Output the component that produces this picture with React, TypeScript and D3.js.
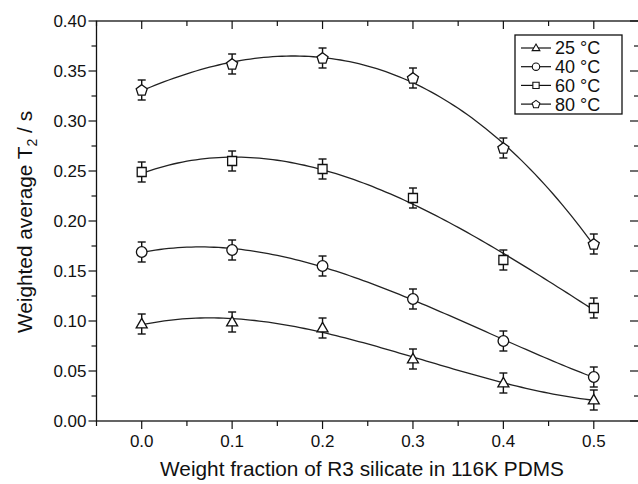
import React from "react";
import * as d3 from "d3";

// Weight fraction of R3 silicate (x) and weighted-average T2 in seconds per temperature
const fractions = [0, 0.1, 0.2, 0.3, 0.4, 0.5];
const t2At25 = [0.097, 0.099, 0.093, 0.062, 0.038, 0.021];
const t2At40 = [0.169, 0.171, 0.155, 0.122, 0.08, 0.044];
const t2At60 = [0.249, 0.26, 0.252, 0.223, 0.161, 0.113];
const t2At80 = [0.331, 0.357, 0.363, 0.343, 0.273, 0.177];
const err25 = [0.01, 0.01, 0.01, 0.01, 0.01, 0.01];
const err40 = [0.01, 0.01, 0.01, 0.01, 0.01, 0.01];
const err60 = [0.01, 0.01, 0.01, 0.01, 0.01, 0.01];
const err80 = [0.01, 0.01, 0.01, 0.01, 0.01, 0.01];
const seriesNames = ["25 °C", "40 °C", "60 °C", "80 °C"];
const seriesMarkers = ["triangle", "circle", "square", "pentagon"];
const xTickValues = [0, 0.1, 0.2, 0.3, 0.4, 0.5];
const yTickValues = [0, 0.05, 0.1, 0.15, 0.2, 0.25, 0.3, 0.35, 0.4];

const W = 638;
const H = 484;
const left = 96.5;
const right = 639;
const top = 21;
const bottom = 421;
const FONT = "'Liberation Sans', Arial, Helvetica, sans-serif";

const x = d3.scaleLinear().domain([-0.05, 0.55]).range([left, right]);
const y = d3.scaleLinear().domain([0, 0.4]).range([bottom, top]);

// least-squares polynomial regression (normal equations + Gaussian elimination)
function polyfit(xs: number[], ys: number[], deg: number): number[] {
  const n = deg + 1;
  const A: number[][] = Array.from({ length: n }, () => new Array(n + 1).fill(0));
  for (let r = 0; r < n; r++) {
    for (let c = 0; c < n; c++) {
      A[r][c] = d3.sum(xs, (v) => Math.pow(v, r + c));
    }
    A[r][n] = d3.sum(xs, (v, i) => Math.pow(v, r) * ys[i]);
  }
  for (let i = 0; i < n; i++) {
    let p = i;
    for (let k = i + 1; k < n; k++) if (Math.abs(A[k][i]) > Math.abs(A[p][i])) p = k;
    [A[i], A[p]] = [A[p], A[i]];
    for (let k = i + 1; k < n; k++) {
      const f = A[k][i] / A[i][i];
      for (let c = i; c <= n; c++) A[k][c] -= f * A[i][c];
    }
  }
  const coef = new Array(n).fill(0);
  for (let i = n - 1; i >= 0; i--) {
    let s = A[i][n];
    for (let c = i + 1; c < n; c++) s -= A[i][c] * coef[c];
    coef[i] = s / A[i][i];
  }
  return coef;
}

function markerPath(kind: string, size: number): string {
  if (kind === "pentagon") {
    const r = size * 0.58;
    const pts = d3.range(5).map((i) => {
      const a = -Math.PI / 2 + (i * 2 * Math.PI) / 5;
      return [r * Math.cos(a), r * Math.sin(a) + r * 0.08];
    });
    return "M" + pts.map((p) => p.join(",")).join("L") + "Z";
  }
  if (kind === "triangle") {
    const h = size * 0.95;
    const w = size * 1.1;
    return `M0,${-h * 0.6}L${w / 2},${h * 0.4}L${-w / 2},${h * 0.4}Z`;
  }
  if (kind === "square") {
    const s = size * 0.9;
    return `M${-s / 2},${-s / 2}h${s}v${s}h${-s}Z`;
  }
  const r = size * 0.53;
  return `M${r},0A${r},${r} 0 1,1 ${-r},0A${r},${r} 0 1,1 ${r},0Z`;
}

const series = [
  { name: seriesNames[0], marker: seriesMarkers[0], values: t2At25, errors: err25 },
  { name: seriesNames[1], marker: seriesMarkers[1], values: t2At40, errors: err40 },
  { name: seriesNames[2], marker: seriesMarkers[2], values: t2At60, errors: err60 },
  { name: seriesNames[3], marker: seriesMarkers[3], values: t2At80, errors: err80 },
];

const line = d3
  .line<[number, number]>()
  .x((d) => x(d[0]))
  .y((d) => y(d[1]))
  .curve(d3.curveLinear);

export default function App() {
  const minorX = d3.range(-0.05, 0.551, 0.05);
  const minorY = d3.range(0, 0.401, 0.025);
  const sampleX = d3.range(0, 0.5001, 0.005);

  return (
    <svg
      width={W}
      height={H}
      style={{ position: "fixed", left: 0, top: 0, background: "#fff" }}
      fontFamily={FONT}
    >
      <rect x={0} y={0} width={W} height={H} fill="#fff" />

      {/* fitted curves */}
      {series.map((s) => {
        const c = polyfit(fractions, s.values, 3);
        const pts = sampleX.map(
          (v) => [v, c[0] + c[1] * v + c[2] * v * v + c[3] * v * v * v] as [number, number]
        );
        return (
          <path key={"fit" + s.name} d={line(pts) || ""} fill="none" stroke="#222" strokeWidth={1.3} />
        );
      })}

      {/* error bars and markers */}
      {series.map((s) => (
        <g key={"pts" + s.name}>
          {s.values.map((v, i) => {
            const cx = x(fractions[i]);
            const y1 = y(v + s.errors[i]);
            const y0 = y(v - s.errors[i]);
            return (
              <g key={i} stroke="#111" strokeWidth={1.4}>
                <line x1={cx} x2={cx} y1={y1} y2={y0} />
                <line x1={cx - 4} x2={cx + 4} y1={y1} y2={y1} />
                <line x1={cx - 4} x2={cx + 4} y1={y0} y2={y0} />
                <path
                  d={markerPath(s.marker, 10)}
                  transform={`translate(${cx},${y(v)})`}
                  fill="#fff"
                  strokeWidth={1.3}
                />
              </g>
            );
          })}
        </g>
      ))}

      {/* frame */}
      <rect x={left} y={top} width={right - left} height={bottom - top} fill="none" stroke="#111" strokeWidth={1.3} />

      {/* bottom axis ticks (outward) and top axis ticks (inward) */}
      {minorX.map((v, i) => {
        const major = Math.abs(Math.round(v * 10) - v * 10) < 1e-6;
        const px = x(v);
        return (
          <g key={"xt" + i} stroke="#111" strokeWidth={1.2}>
            <line x1={px} x2={px} y1={bottom} y2={bottom + (major ? 8 : 5)} />
            <line x1={px} x2={px} y1={top} y2={top + (major ? 8 : 5)} />
          </g>
        );
      })}
      {xTickValues.map((v) => (
        <text key={"xl" + v} x={x(v)} y={bottom + 26} textAnchor="middle" fontSize={17} fill="#111">
          {d3.format(".1f")(v)}
        </text>
      ))}

      {/* left axis ticks (outward) and right axis ticks (inward) */}
      {minorY.map((v, i) => {
        const major = i % 2 === 0;
        const py = y(v);
        return (
          <g key={"yt" + i} stroke="#111" strokeWidth={1.2}>
            <line x1={left} x2={left - (major ? 8 : 5)} y1={py} y2={py} />
            <line x1={right} x2={right - (major ? 9 : 5)} y1={py} y2={py} />
          </g>
        );
      })}
      {yTickValues.map((v) => (
        <text key={"yl" + v} x={left - 10} y={y(v)} dy="0.36em" textAnchor="end" fontSize={17} fill="#111">
          {d3.format(".2f")(v)}
        </text>
      ))}

      {/* axis titles */}
      <text x={362} y={476} textAnchor="middle" fontSize={20.8} fill="#111">
        Weight fraction of R3 silicate in 116K PDMS
      </text>
      <text
        transform={`translate(32,${(top + bottom) / 2 + 1}) rotate(-90)`}
        textAnchor="middle"
        fontSize={20.8}
        fill="#111"
      >
        Weighted average T<tspan fontSize={14} dy={5}>2</tspan>
        <tspan dy={-5}> / s</tspan>
      </text>

      {/* legend */}
      <g transform="translate(515,35)">
        <rect x={0} y={0} width={107} height={79} fill="#fff" stroke="#111" strokeWidth={1.3} />
        {series.map((s, i) => {
          const cy = 13 + i * 18.7;
          return (
            <g key={"lg" + s.name}>
              <line x1={6} x2={36} y1={cy} y2={cy} stroke="#111" strokeWidth={1.2} />
              <path
                d={markerPath(s.marker, 7)}
                transform={`translate(21,${cy})`}
                fill="#fff"
                stroke="#111"
                strokeWidth={1.1}
              />
              <text x={40} y={cy} dy="0.36em" fontSize={18} fill="#111">
                {s.name}
              </text>
            </g>
          );
        })}
      </g>
    </svg>
  );
}
